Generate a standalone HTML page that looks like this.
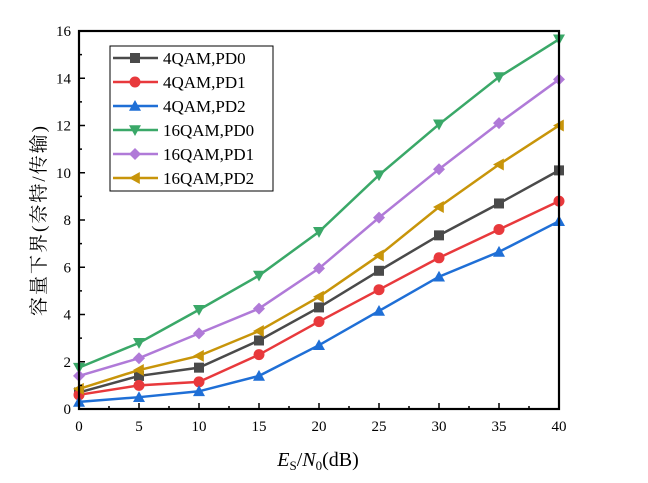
<!DOCTYPE html>
<html><head><meta charset="utf-8"><style>
body{margin:0;background:#fff}
text{font-family:"Liberation Serif","Noto Serif CJK SC",serif}
</style></head><body>
<svg id="c" width="648" height="478" xmlns="http://www.w3.org/2000/svg"></svg>
<script>
const xValues=[0,5,10,15,20,25,30,35,40];
const seriesNames=["4QAM,PD0","4QAM,PD1","4QAM,PD2","16QAM,PD0","16QAM,PD1","16QAM,PD2"];
const s4PD0=[0.7,1.4,1.75,2.9,4.3,5.85,7.35,8.7,10.1];
const s4PD1=[0.6,1.0,1.15,2.3,3.7,5.05,6.4,7.6,8.8];
const s4PD2=[0.3,0.5,0.75,1.4,2.7,4.15,5.6,6.65,7.95];
const s16PD0=[1.75,2.8,4.2,5.65,7.5,9.9,12.05,14.05,15.65];
const s16PD1=[1.4,2.15,3.2,4.25,5.95,8.1,10.15,12.1,13.95];
const s16PD2=[0.85,1.65,2.25,3.3,4.75,6.5,8.55,10.35,12.0];
const xTicks=[0,5,10,15,20,25,30,35,40];
const yTicks=[0,2,4,6,8,10,12,14,16];
const series=[s4PD0,s4PD1,s4PD2,s16PD0,s16PD1,s16PD2];
const colors=["#4a4a4a","#e8393c","#1f6fd6","#3aa868","#b07ad8","#c8950a"];
const markers=["square","circle","up","down","diamond","left"];
const L=79,R=559,T=31,B=409;
const sx=v=>L+(v-0)/(40-0)*(R-L);
const sy=v=>B-(v-0)/(16-0)*(B-T);
const svg=document.getElementById('c');
const NS="http://www.w3.org/2000/svg";
function mk(tag,attrs,parent){const e=document.createElementNS(NS,tag);for(const k in attrs)e.setAttribute(k,attrs[k]);(parent||svg).appendChild(e);return e;}
function marker(type,x,y,col,g){
  const r=6;let e;
  if(type=="square")e=mk('rect',{x:x-5,y:y-5,width:10,height:10,fill:col},g);
  else if(type=="circle")e=mk('circle',{cx:x,cy:y,r:5.5,fill:col},g);
  else if(type=="up")e=mk('polygon',{points:`${x},${y-r} ${x-r},${y+r*0.8} ${x+r},${y+r*0.8}`,fill:col},g);
  else if(type=="down")e=mk('polygon',{points:`${x},${y+r} ${x-r},${y-r*0.8} ${x+r},${y-r*0.8}`,fill:col},g);
  else if(type=="diamond")e=mk('polygon',{points:`${x},${y-r} ${x+r},${y} ${x},${y+r} ${x-r},${y}`,fill:col},g);
  else e=mk('polygon',{points:`${x-r},${y} ${x+r*0.8},${y-r} ${x+r*0.8},${y+r}`,fill:col},g);
  return e;
}
series.forEach((d,i)=>{
  const g=mk('g',{});
  
  
  const pts=d.map((v,j)=>sx(xValues[j])+','+sy(v)).join(' ');
  mk('polyline',{points:pts,fill:'none',stroke:colors[i],'stroke-width':2.5},g);
  d.forEach((v,j)=>{const m=marker(markers[i],sx(xValues[j]),sy(v),colors[i],g);
    
    });
});
const ax=mk('rect',{x:L,y:T,width:R-L,height:B-T,fill:'none',stroke:'#000','stroke-width':2.2});


xTicks.forEach(t=>{
  mk('line',{x1:sx(t),x2:sx(t),y1:B,y2:B-6,stroke:'#000','stroke-width':1.5});
  if(t<40)mk('line',{x1:sx(t+2.5),x2:sx(t+2.5),y1:B,y2:B-3,stroke:'#000','stroke-width':1.5});
  const tx=mk('text',{x:sx(t),y:B+22,'text-anchor':'middle','font-size':15});tx.textContent=t;
  
  
});
yTicks.forEach(t=>{
  mk('line',{x1:L,x2:L+6,y1:sy(t),y2:sy(t),stroke:'#000','stroke-width':1.5});
  if(t<16)mk('line',{x1:L,x2:L+3,y1:sy(t+1),y2:sy(t+1),stroke:'#000','stroke-width':1.5});
  const tx=mk('text',{x:L-8,y:sy(t)+5,'text-anchor':'end','font-size':15});tx.textContent=t;
  
  
});
const xt=mk('text',{x:318,y:466,'text-anchor':'middle','font-size':20});
xt.innerHTML='<tspan font-style="italic">E</tspan><tspan font-size="13" dy="4">S</tspan><tspan dy="-4">/</tspan><tspan font-style="italic">N</tspan><tspan font-size="13" dy="4">0</tspan><tspan dy="-4">(dB)</tspan>';


const yt=mk('text',{x:0,y:0,'text-anchor':'middle','font-size':19,'letter-spacing':2,transform:'translate(45,220) rotate(-90)'});
yt.textContent='容量下界(奈特/传输)';


const lg=mk('g',{});


mk('rect',{x:110,y:46,width:163,height:145,fill:'#fff',stroke:'#000','stroke-width':1},lg);
seriesNames.forEach((n,i)=>{
  const y=58+i*24;
  const e=mk('g',{},lg);
  
  
  mk('line',{x1:113,x2:158,y1:y,y2:y,stroke:colors[i],'stroke-width':2.5},e);
  marker(markers[i],135,y,colors[i],e);
  const t=mk('text',{x:163,y:y+6,'font-size':17},e);t.textContent=n;
});
</script>
</body></html>
